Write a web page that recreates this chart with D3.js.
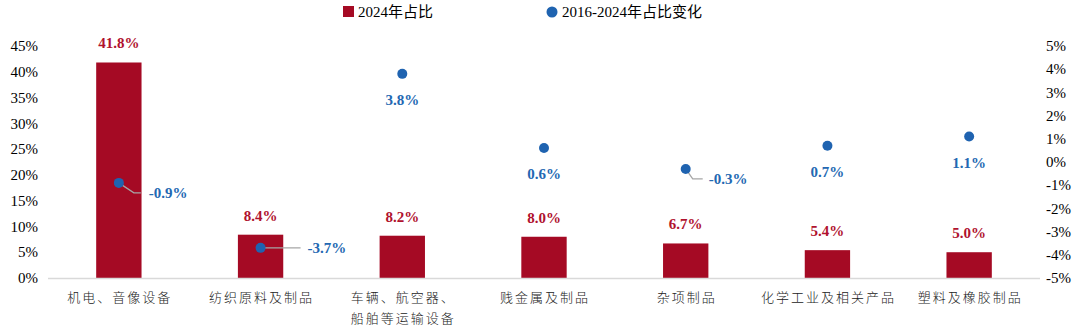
<!DOCTYPE html>
<html><head><meta charset="utf-8">
<script src="https://cdn.jsdelivr.net/npm/d3@7/dist/d3.min.js"></script>
<style>body{margin:0;background:#fff}svg{display:block}</style>
</head><body><svg id="c" width="1080" height="326"></svg>
<script>
const categories = ["机电、音像设备","纺织原料及制品","车辆、航空器、\n船舶等运输设备","贱金属及制品","杂项制品","化学工业及相关产品","塑料及橡胶制品"];
const share2024 = [41.8, 8.4, 8.2, 8.0, 6.7, 5.4, 5.0];
const change = [-0.9, -3.7, 3.8, 0.6, -0.3, 0.7, 1.1];
const leftTicks = [0,5,10,15,20,25,30,35,40,45];
const rightTicks = [-5,-4,-3,-2,-1,0,1,2,3,4,5];
const legendLabels = ["2024年占比","2016-2024年占比变化"];

const RED = "#A50A24", BLUE = "#1F63B0", RED_T = "#B0122E", BLUE_T = "#2368B2";
const svg = d3.select("#c");
const latin = "'Liberation Serif','Times New Roman',serif";
const cjk = "'Liberation Serif','Noto Sans CJK SC',serif";

const x = d3.scaleBand().domain(categories).range([48,1040]).paddingInner(0.68).paddingOuter(0.34);
const yL = d3.scaleLinear().domain([0,45]).range([278,46]);
const yR = d3.scaleLinear().domain([-5,5]).range([278,46]);

// left axis labels
svg.append("g").selectAll("text").data(leftTicks).join("text")
  .attr("x",38).attr("y",d=>yL(d)).attr("dy","0.35em").attr("text-anchor","end")
  .attr("font-family",latin).attr("font-size",15).attr("fill","#000")
  .text(d=>d+"%");
// right axis labels
svg.append("g").selectAll("text").data(rightTicks).join("text")
  .attr("x",1046).attr("y",d=>yR(d)).attr("dy","0.35em").attr("text-anchor","start")
  .attr("font-family",latin).attr("font-size",15).attr("fill","#000")
  .text(d=>d+"%");

// bars
svg.append("g").selectAll("rect").data(share2024).join("rect")
  .attr("x",(d,i)=>x(categories[i])).attr("width",x.bandwidth())
  .attr("y",d=>yL(d)).attr("height",d=>yL(0)-yL(d)).attr("fill",RED);

// baseline
svg.append("line").attr("x1",48).attr("x2",1040).attr("y1",yL(0)+0.5).attr("y2",yL(0)+0.5)
  .attr("stroke","#D9D9D9").attr("stroke-width",1.5);

// bar labels
svg.append("g").selectAll("text").data(share2024).join("text")
  .attr("x",(d,i)=>x(categories[i])+x.bandwidth()/2).attr("y",d=>yL(d)-14)
  .attr("text-anchor","middle").attr("font-family",latin).attr("font-weight","bold")
  .attr("font-size",15).attr("fill",RED_T).text(d=>d.toFixed(1)+"%");

// dots + labels
const cx = i => x(categories[i])+x.bandwidth()/2;
const g = svg.append("g");
change.forEach((v,i)=>{
  const px = cx(i), py = yR(v);
  const txt = v.toFixed(1)+"%";
  if (v >= 0) {
    g.append("text").attr("x",px).attr("y",py+26).attr("dy","0.35em").attr("text-anchor","middle")
      .attr("font-family",latin).attr("font-weight","bold").attr("font-size",15).attr("fill",BLUE_T).text(txt);
  } else {
    let pts, lx, ly;
    if (i===0) { pts=[[px,py],[px+15,py+10],[px+22,py+10]]; lx=px+30; ly=py+10; }
    else if (i===1) { pts=[[px,py],[px+40,py]]; lx=px+47; ly=py; }
    else { pts=[[px,py],[px+7,py+10],[px+17,py+10]]; lx=px+23; ly=py+10; }
    g.append("path").attr("d",d3.line()(pts)).attr("fill","none").attr("stroke","#A6A6A6").attr("stroke-width",1.3);
    g.append("text").attr("x",lx).attr("y",ly).attr("dy","0.35em").attr("text-anchor","start")
      .attr("font-family",latin).attr("font-weight","bold").attr("font-size",15).attr("fill",BLUE_T).text(txt);
  }
  g.append("circle").attr("cx",px).attr("cy",py).attr("r",5).attr("fill",BLUE);
});

// category labels
const cg = svg.append("g");
categories.forEach((c,i)=>{
  const lines = c.split("\n");
  const t = cg.append("text").attr("text-anchor","middle").attr("font-family","'Noto Sans CJK SC',sans-serif")
    .attr("font-size",13).attr("font-weight",300).attr("letter-spacing","2px").attr("fill","#222");
  lines.forEach((l,k)=>{
    t.append("tspan").attr("x",cx(i)+1).attr("y",302+k*21).text(l);
  });
});

// legend
svg.append("rect").attr("x",343).attr("y",6).attr("width",11).attr("height",11).attr("fill",RED);
svg.append("text").attr("x",358).attr("y",17).attr("font-family",cjk).attr("font-size",15).attr("fill","#000").text(legendLabels[0]);
svg.append("circle").attr("cx",552).attr("cy",12).attr("r",5.5).attr("fill",BLUE);
svg.append("text").attr("x",562).attr("y",17).attr("font-family",cjk).attr("font-size",15).attr("fill","#000").text(legendLabels[1]);
</script></body></html>
